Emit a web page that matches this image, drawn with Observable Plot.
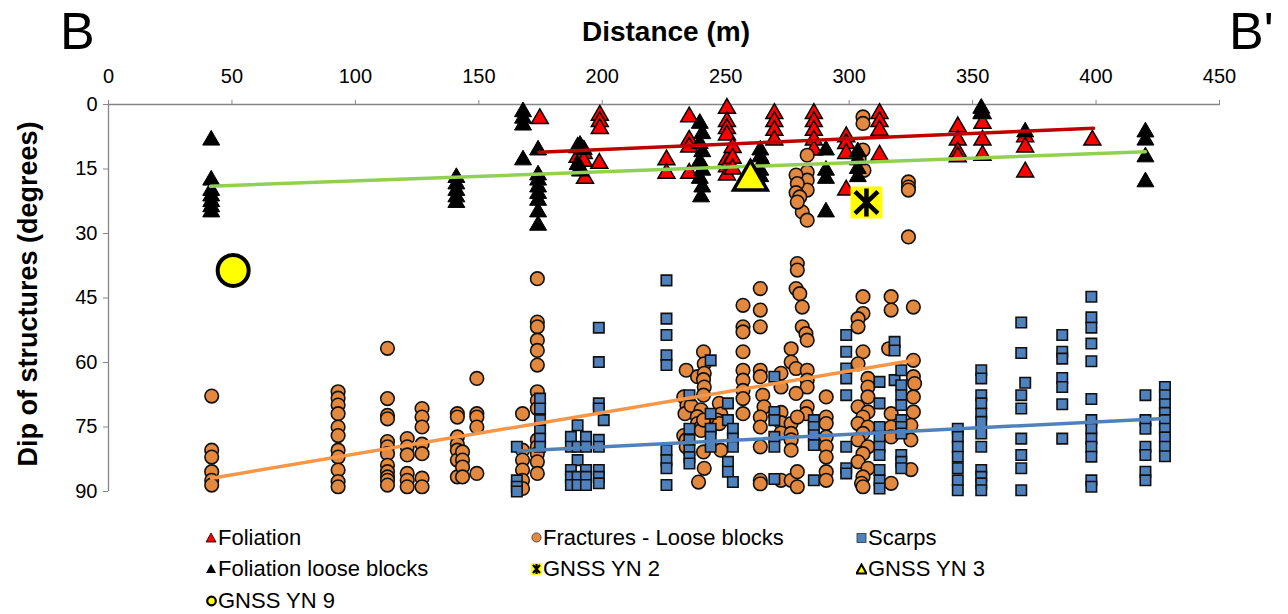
<!DOCTYPE html>
<html><head><meta charset="utf-8">
<script src="https://cdn.jsdelivr.net/npm/d3@7"></script>
<script src="https://cdn.jsdelivr.net/npm/@observablehq/plot@0.6"></script>
<style>
body{margin:0;background:#fff;font-family:Arial,"Liberation Sans",sans-serif;color:#000;}
#wrap{position:relative;width:1288px;height:614px;overflow:hidden;}
#chart{position:absolute;left:0;top:0;}
.big{position:absolute;font-size:52px;line-height:52px;top:5px;}
#xt{position:absolute;left:466px;width:400px;text-align:center;top:16px;font-size:28px;line-height:32px;font-weight:bold;}
#yt{position:absolute;left:-172px;top:278px;width:400px;height:32px;text-align:center;font-size:27px;line-height:32px;font-weight:bold;transform:rotate(-90deg);transform-origin:200px 16px;}
.lg{position:absolute;font-size:22px;line-height:24px;white-space:nowrap;display:flex;align-items:center;}
.lg svg{margin-right:1px;}
</style></head>
<body><div id="wrap">
<div id="chart"></div>
<div class="big" style="left:60px">B</div>
<div class="big" style="left:1229px">B'</div>
<div id="xt">Distance (m)</div>
<div id="yt">Dip of structures (degrees)</div>
<div id="legend"></div>
</div>
<script>
// ---- tick values ----
const xTicks = [0, 50, 100, 150, 200, 250, 300, 350, 400, 450];
const yTicks = [0, 15, 30, 45, 60, 75, 90];

// ---- series: [distance (m), dip (degrees)] ----
const foliation = [
[174.7,3.3],[199,2.5],[199,4],[199,5.6],[198.8,13.7],[190,10],[190,12.3],[192.5,11.4],[192.5,13.2],[191,14.9],[193,17.2],
[226,12.9],[226,16],[235.2,2.9],[235.2,8.3],[235.2,9.9],[235.2,16],
[250.5,0.9],[250.5,4],[250.5,5.6],[250.5,7.1],[250.5,12.9],[250.5,14.5],[250.5,16.4],[252.8,10],[252.8,12.5],[252.8,15],
[269.7,2.1],[269.7,4],[269.7,6],[269.7,8.3],[285.7,2.1],[285.7,4],[285.7,6],[285.7,8.3],[285.7,10.6],
[298.8,7.5],[298.8,9.1],[298.8,11.4],[298.8,19.9],[312.3,2.1],[312.3,4],[312.3,6],[312.3,11.8],
[344,5.2],[344,8.3],[344,11],[344,12.2],[354,2.1],[354,4.4],[354,8.3],[354,11.8],
[371.3,7.5],[371.3,9.9],[371.3,15.7],[398.5,8.3]
];
const foliationLoose = [
[41.6,8.3],[41.6,17.6],[41.6,20],[41.6,21.3],[41.6,22.6],[41.6,23.8],[41.6,25],
[140.9,17],[140.9,18.5],[140.9,20],[140.9,21.5],[140.9,22.8],
[167.9,1.7],[167.9,3.2],[167.9,4.8],[167.9,12.9],
[174,10.6],[174,16.4],[174,17.6],[174,19.2],[174,20.7],[174,22.3],[174,25],[174,28.1],
[191,9.5],[192.5,10.5],[190,14],[191,15.5],
[239.5,4.4],[240.5,6.8],[239.5,9.1],[240.5,11],[239.5,13.3],[240.5,15.3],[239.5,17.2],[240.5,19.2],[240,21.5],
[264,10.6],[264,12.2],[265,13.3],[264,15.3],[264,16.8],
[290.6,10.6],[290.6,15.3],[290.6,17.2],[290.6,25],
[303.5,11],[303.5,12.9],[303.5,14.9],[303.5,16.8],
[353.5,0.9],[353.5,2.1],[371.3,6.4],
[420,6.4],[420,8.3],[420,12.2],[420,18]
];
const fractures = [
[41.8,67.8],[41.8,80.4],[41.8,82],[41.8,85.4],[41.8,87.4],[41.8,88.5],
[93,66.8],[93,68.3],[93,69.9],[93,71.9],[93,75],[93,77],[93,80.4],[93,82],[93,85],[93,87.7],[93,88.9],
[113,56.7],[113,68.4],[113,72.3],[113,73.1],[113,78.4],[113,79.6],[113,81.2],[113,83.9],[113,85.4],[113,86.6],[113,87.4],[113,88.5],
[121,77.7],[121,79.6],[121,81.5],[121,85.8],[121,87.4],[121,88.9],
[127,70.7],[127,72.7],[127,75],[127,79],[127,81.2],[127,86.9],[127,88.9],
[141.3,71.9],[141.3,72.7],[141.3,77.3],[141.3,79],[141.3,80.4],[141.3,82.7],[141.3,86.6],
[143.4,80.8],[143.4,82.7],[143.4,84.3],[143.4,86.6],
[149.2,63.7],[149.2,71.9],[149.2,72.7],[149.2,75],[149.2,85.8],
[167.7,71.9],[167.7,80.4],[167.7,82.7],[167.7,85],[167.7,87.4],[167.7,89.3],
[173.7,40.5],[173.7,50.6],[173.7,51.7],[173.7,54.8],[173.7,57.2],[173.7,60.6],[173.7,66.8],[173.7,68.8],[173.7,70.7],[173.7,78],[173.7,79.6],[173.7,81.2],[173.7,83.1],[173.7,85.8],
[234,61.8],[233,68],[234.3,70],[233.5,71.9],[233,77],[234,78],[234,79.6],
[238.6,63.3],[236,70],[240,71],[238.5,72.6],[238.6,74.2],[240,75],[240,75.8],
[241,57.5],[241.3,60.3],[241.3,62.5],[241,64],[241.3,65.7],[241,67.6],[241,73.4],[241,80.8],[241.3,84.6],[239,87.8],
[247.4,69.5],[248,72],[246.5,73.4],[247.4,74.2],[248,80.4],
[257,46.7],[257,51.7],[257,52.9],[257,57.5],[257,61.8],[257,64.1],[257,66.5],[257,68.4],[257,71.9],
[264,42.8],[264,47.8],[264,51.7],[264,61.8],[264,63.3],[265,67.6],[265.5,70.3],[264,72.7],[264,75],[264,79.6],[264,87.4],[264,88.2],
[272.4,62.5],[272.4,65.7],[272.4,71.6],[272.4,74],[272.4,76.4],[272.4,87.4],
[276.5,56.8],[276.5,59.9],[276.5,74.2],[276.5,76.5],[276.5,78],[276.5,80.4],[276.5,87.4],
[278.5,42.8],[280,44],[281,47.1],[281,51.7],[282.5,53.3],[283,54.8],[278.5,61.4],[283,61.8],[283,64.1],[283,65.7],[278.5,67.2],[283,70.3],[282.5,71.9],[279,72.7],[279,85.4],[279,88.9],
[290.7,68],[290.7,72.7],[290.7,74.2],[290.7,77.3],[290.7,79.6],[290.7,82],[290.7,85.4],[290.7,87.4],
[305.6,44.7],[305.6,48.6],[303.6,49.8],[303.6,51.7],[305.6,57.5],[303.6,60.3],[307.6,63.7],[307.6,65.7],[307.6,68],[303.6,70.3],[307.6,71.5],[305.6,72.7],[303.6,74.2],[307.6,75],[305.6,76.5],[303.6,78],[307.6,79.6],[305.6,81.2],[303.6,83.1],[307.6,84.6],[305.6,86.6],[305,88.1],[305.6,88.9],
[317,44.7],[317,47.8],[316,56.8],[317,71.9],[317,75],[317,77.3],[317,88.1],
[326,47.1],[326,59.5],[326,63.3],[326.5,64.9],[326,68],[326,71.5],[325,74.6],[325,78],[325,84.9],
[305.6,2.9],[305.6,4.4],[305.6,10.6],[304,12.6],[306,15.3],
[283,11.8],[283,15.7],[283,17.6],[283,19.9],[281,25],[283,26.9],
[278.5,16.4],[279,18.4],[278.5,20.5],[280,21.5],[279,22.7],
[324,18],[324,19.2],[324,19.9],[324,30.8],[279,37],[279,38.5]
];
const scarps = [
[165.4,79.6],[165.4,87.4],[165.4,88.9],[165.4,90],
[174.8,68.4],[174.8,70.7],[174.8,73.4],[174.8,75.8],[174.8,77.7],[174.8,79.6],
[190,74.6],[187.3,77.3],[193.4,77.3],[187.3,79.6],[190,79.6],[193.4,79.6],[190,82.7],[187.3,85],[193.4,85],[187.3,86.6],[190,86.6],[193.4,86.6],[187.3,88.5],[190,88.5],[193.4,88.5],
[198.6,51.9],[198.6,59.9],[198.6,69.5],[198.6,70.7],[200.6,73.4],[198.6,78],[198.6,79.6],[198.6,85],[198.6,86.6],[198.6,88.1],
[226,40.9],[226,49.8],[226,53.6],[226,58.3],[226,60.6],[226,80.4],[226,82.7],[226,84.6],[226,88.5],
[235.3,67.6],[235.3,75.4],[235.3,78],[235.3,80.4],[235.3,82],[235.3,83.5],
[243.9,59.5],[243.9,71.9],[243.9,75.4],[243.9,77.3],[243.9,79.6],
[250.9,69.5],[250.9,73.4],[250.9,83.1],[250.9,85.4],[252.9,75.4],[252.9,77.7],[252.9,79.6],[252.9,87.8],
[269.7,63.3],[269.7,71.5],[269.7,73.4],[269.7,77.3],[269.7,79.6],[269.7,87.1],
[285.7,73.4],[285.7,75],[285.7,76.9],[285.7,79.2],[285.7,87.4],
[298.8,53.6],[298.8,57.5],[298.8,61.4],[298.8,63.7],[298.8,67.6],[298.8,79.6],[298.8,84.6],[298.8,85.8],
[312.3,64.5],[312.3,69.5],[312.3,75],[312.3,77.3],[312.3,79.6],[312.3,81.5],[312.3,85],[312.3,87.4],[312.3,89.3],
[318.4,55.2],[318.4,57.2],[318.4,64.1],
[321.1,61.8],[321.1,65.3],[321.1,67.6],[321.1,69.9],[321.1,73.4],[321.1,75],[321.1,76.5],[321.1,81.5],[321.1,83.1],[321.1,84.6],
[344,75.4],[344,77.3],[344,79.6],[344,81.9],[344,84.6],[344,87.4],[344,89.7],
[353.5,61.8],[353.5,63.7],[353.5,67.6],[353.5,69.5],[353.5,71.9],[353.5,73.8],[353.5,76.5],[353.5,79.6],[353.5,85],[353.5,86.6],[353.5,88.1],[353.5,89.7],
[369.7,50.7],[369.7,57.8],[371.3,64.7],[369.7,67.6],[369.7,70.7],[369.7,77.7],[369.7,81.5],[369.7,84.6],[369.7,89.7],
[386.3,53.6],[386.3,57.5],[386.3,59.1],[386.3,63.6],[386.3,65.7],[386.3,69.7],[386.3,77.7],
[398.1,44.7],[398.1,49.5],[398.1,51.9],[398.1,55.6],[398.1,59.7],[398.1,68.5],[398.1,73.4],[398.1,75.4],[398.1,77.7],[398.1,79.6],[398.1,81.9],[398.1,87.4],[398.1,88.9],
[420,67.6],[420,73.4],[420,75.4],[420,79.6],[420,81.5],[420,85.4],[420,87.4],
[427.9,65.7],[427.9,67.6],[427.9,69.7],[427.9,71.7],[427.9,73.4],[427.9,75.4],[427.9,77.4],[427.9,79.6],[427.9,81.8]
];
const gnssYN2 = [[307, 22.8]];
const gnssYN3 = [[260, 17.6]];
const gnssYN9 = [[50.5, 38.6]];

// ---- trend lines (end points) ----
const trendFoliation = [[174.4, 11.1], [399, 5.5]];
const trendFoliationLoose = [[41.3, 19], [420, 11]];
const trendFractures = [[41.8, 86.9], [326, 59.5]];
const trendScarps = [[166, 80.6], [427.7, 73]];

const X = d => d[0], Y = d => d[1];
const RED = "#FF0000", ORANGE = "#E2893F", BLUE = "#4F81BD", YEL = "#FFFF00";

// asterisk: vertical bar plus an X (Excel-style star marker)
const starMarker = {
  draw(ctx, size) {
    const r = Math.sqrt(size / Math.PI), a = r * 0.82, b = r * 0.78;
    ctx.moveTo(0, -r); ctx.lineTo(0, r);
    ctx.moveTo(-a, -b); ctx.lineTo(a, b);
    ctx.moveTo(-a, b); ctx.lineTo(a, -b);
  }
};

const plot = Plot.plot({
  width: 1288, height: 500,
  marginLeft: 108, marginRight: 69, marginTop: 104, marginBottom: 9,
  style: {fontFamily: "Arial, 'Liberation Sans', sans-serif", fontSize: "19px", background: "transparent", overflow: "visible"},
  x: {domain: [0, 450]},
  y: {domain: [0, 90], reverse: true},
  marks: [
    Plot.ruleY([0], {stroke: "#868686", strokeWidth: 1.3}),
    Plot.ruleX([0], {stroke: "#868686", strokeWidth: 1.3}),
    Plot.axisX(xTicks, {anchor: "top", tickSize: 5, tickPadding: 17, stroke: "#868686", fill: "black", label: null, fontSize: 20}),
    Plot.axisY(yTicks, {anchor: "left", tickSize: 5, tickPadding: 6, stroke: "#868686", fill: "black", label: null, fontSize: 20}),
    Plot.dot(foliation, {x: X, y: Y, symbol: "triangle", r: 6.3, fill: RED, stroke: "black", strokeWidth: 1.5}),
    Plot.dot(fractures, {x: X, y: Y, symbol: "circle", r: 6.8, fill: ORANGE, stroke: "#111", strokeWidth: 1.6}),
    Plot.dot(scarps, {x: X, y: Y, symbol: "square", r: 5.9, fill: BLUE, stroke: "#111", strokeWidth: 1.6}),
    Plot.dot(foliationLoose, {x: X, y: Y, symbol: "triangle", r: 6.3, fill: "black", stroke: "black", strokeWidth: 1}),
    Plot.line(trendFoliation, {x: X, y: Y, stroke: "#C00000", strokeWidth: 3.5}),
    Plot.line(trendFoliationLoose, {x: X, y: Y, stroke: "#92D050", strokeWidth: 3.5}),
    Plot.line(trendFractures, {x: X, y: Y, stroke: "#F79646", strokeWidth: 3.5}),
    Plot.line(trendScarps, {x: X, y: Y, stroke: "#4F81BD", strokeWidth: 3.5}),
    Plot.dot(gnssYN2, {x: X, y: Y, symbol: "square", r: 18, fill: YEL}),
    Plot.dot(gnssYN2, {x: X, y: Y, symbol: starMarker, r: 14, stroke: "black", strokeWidth: 4.5, fill: "none"}),
    Plot.dot(gnssYN3, {x: X, y: Y, symbol: "triangle", r: 12.5, fill: YEL, stroke: "black", strokeWidth: 3.5}),
    Plot.dot(gnssYN9, {x: X, y: Y, symbol: "circle", r: 15.5, fill: YEL, stroke: "black", strokeWidth: 4})
  ]
});
document.getElementById("chart").appendChild(plot);

// ---- legend ----
const legendItems = [
  {label: "Foliation", col: 0, row: 0, m: `<polygon points="5,1 10,10 0,10" fill="${RED}" stroke="black" stroke-width="0.8"/>`},
  {label: "Fractures - Loose blocks", col: 1, row: 0, m: `<circle cx="5.5" cy="5.5" r="4.6" fill="${ORANGE}" stroke="#333" stroke-width="0.8"/>`},
  {label: "Scarps", col: 2, row: 0, m: `<rect x="1" y="1.5" width="9" height="9" fill="${BLUE}" stroke="#333" stroke-width="0.8"/>`},
  {label: "Foliation loose blocks", col: 0, row: 1, m: `<polygon points="5,1 10,10 0,10" fill="black"/>`},
  {label: "GNSS YN 2", col: 1, row: 1, m: `<rect x="0" y="0" width="11" height="12" fill="${YEL}"/><path d="M2,2L9,10M9,2L2,10M5.5,1V11" stroke="black" stroke-width="2.2"/>`},
  {label: "GNSS YN 3", col: 2, row: 1, m: `<polygon points="5.5,1.5 10.5,10.5 0.5,10.5" fill="${YEL}" stroke="black" stroke-width="2"/>`},
  {label: "GNSS YN 9", col: 0, row: 2, m: `<circle cx="5.5" cy="6" r="4.3" fill="${YEL}" stroke="black" stroke-width="2.2"/>`}
];
const colX = [206, 531, 856];
const rowY = [526, 557, 589];
const lg = document.getElementById("legend");
for (const it of legendItems) {
  const d = document.createElement("div");
  d.className = "lg";
  d.style.left = colX[it.col] + "px";
  d.style.top = rowY[it.row] + "px";
  d.innerHTML = `<svg width="11" height="12" viewBox="0 0 11 12">${it.m}</svg><span>${it.label}</span>`;
  lg.appendChild(d);
}
</script>
</body></html>
